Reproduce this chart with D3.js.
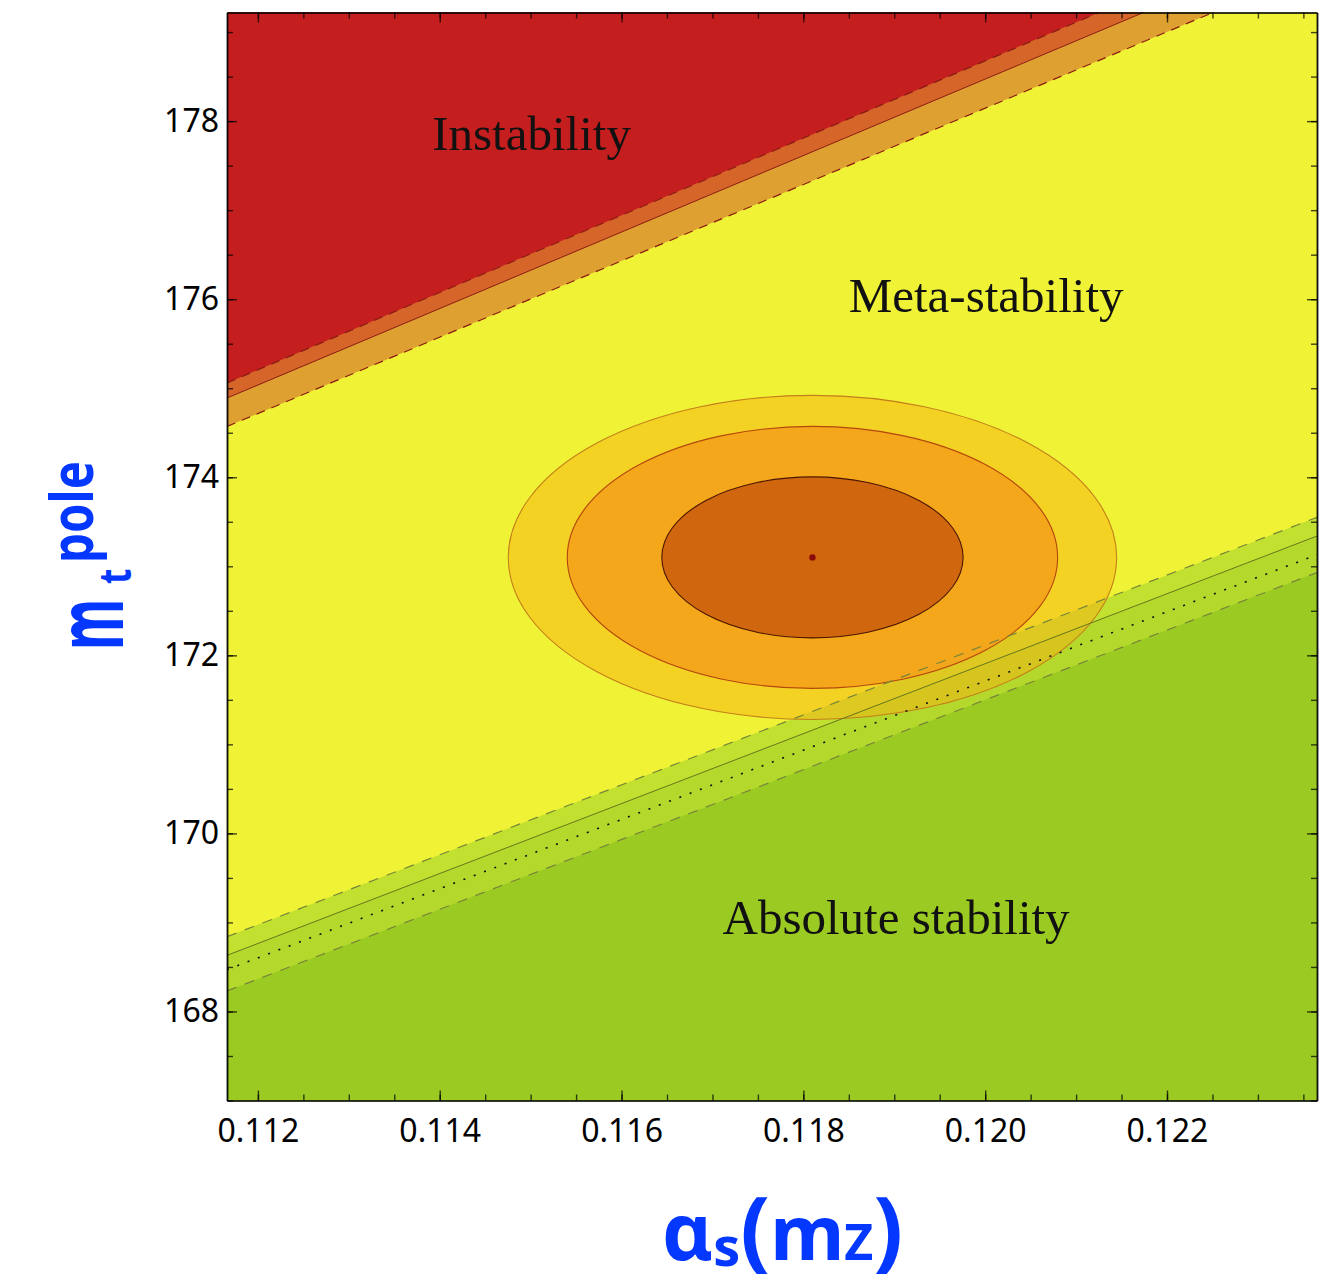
<!DOCTYPE html>
<html>
<head>
<meta charset="utf-8">
<script src="https://cdn.jsdelivr.net/npm/d3@7"></script>
<style>
  body { margin: 0; background: #fff; }
  svg { display: block; }
</style>
</head>
<body>
<div id="chart"></div>
<script>
// axis ranges
const alphaRange = [0.11166, 0.12365];
const mtRange = [167, 179.22];
const alphaTicks = [0.112, 0.114, 0.116, 0.118, 0.120, 0.122];
const mtTicks = [168, 170, 172, 174, 176, 178];

// straight boundaries: mt value at the left and right edge of the plot
const lineAlpha = [0.11166, 0.12365];
const instUpper = [175.06, 180.26];   // dashed, edge of red region
const instCentral = [174.89, 180.04]; // solid
const instLower = [174.57, 179.71];   // dashed, edge of yellow
const stabUpper = [168.84, 173.55];   // dashed
const stabCentral = [168.63, 173.34]; // solid
const stabDotted = [168.47, 173.13];  // dotted
const stabLower = [168.23, 172.93];   // dashed, edge of green

// measured point and its error ellipses
const centre = [0.1181, 173.1];
const ellipseAlpha = [0.003346, 0.002697, 0.001657];
const ellipseMt = [1.82, 1.471, 0.904];

// region labels
const labels = [
    { text: "Instability", alpha: 0.11501, mt: 177.68 },
    { text: "Meta-stability", alpha: 0.12001, mt: 175.86 },
    { text: "Absolute stability", alpha: 0.11902, mt: 168.87 }
];

const W = 1342, H = 1286;
const margin = { top: 12.5, left: 227 },
    width = 1090,
    height = 1088;

const svg = d3.select("#chart").append("svg")
    .attr("width", W)
    .attr("height", H);

const x = d3.scaleLinear().domain(alphaRange).range([0, width]);
const y = d3.scaleLinear().domain(mtRange).range([height, 0]);

svg.append("defs").append("clipPath")
    .attr("id", "plotclip")
    .append("rect")
    .attr("width", width)
    .attr("height", height);

const chart = svg.append("g")
    .attr("transform", `translate(${margin.left},${margin.top})`);

const area = chart.append("g").attr("clip-path", "url(#plotclip)");

// background = meta-stability
area.append("rect")
    .attr("width", width)
    .attr("height", height)
    .attr("fill", "#eff235");

const poly = d3.line().x(d => x(d[0])).y(d => y(d[1]));

function above(vals) {
    const top = d3.max([mtRange[1], ...vals]) + 1;
    return poly([[lineAlpha[0], vals[0]], [lineAlpha[1], vals[1]], [lineAlpha[1], top], [lineAlpha[0], top]]) + "Z";
}
function below(vals) {
    const bot = d3.min([mtRange[0], ...vals]) - 1;
    return poly([[lineAlpha[0], vals[0]], [lineAlpha[1], vals[1]], [lineAlpha[1], bot], [lineAlpha[0], bot]]) + "Z";
}

// instability side
area.append("path").attr("d", above(instLower)).attr("fill", "#dea030");
area.append("path").attr("d", above(instCentral)).attr("fill", "#d6652a");
area.append("path").attr("d", above(instUpper)).attr("fill", "#c41e1f");

// stability side
area.append("path").attr("d", below(stabUpper)).attr("fill", "#c1e02f");
area.append("path").attr("d", below(stabCentral)).attr("fill", "#b4d82b");
area.append("path").attr("d", below(stabLower)).attr("fill", "#9bcb23");

// ellipses
const ellStyle = [
    { fill: "#fab214", op: 0.5, stroke: "#c47f1a" },
    { fill: "#f4a21b", op: 0.9, stroke: "#b5470d" },
    { fill: "#d0670f", op: 1, stroke: "#4a1500" }
];
area.selectAll(".ell")
    .data(ellipseAlpha)
    .enter()
    .append("ellipse")
    .attr("class", "ell")
    .attr("cx", x(centre[0]))
    .attr("cy", y(centre[1]))
    .attr("rx", d => x(centre[0] + d) - x(centre[0]))
    .attr("ry", (d, i) => y(centre[1]) - y(centre[1] + ellipseMt[i]))
    .attr("fill", (d, i) => ellStyle[i].fill)
    .attr("fill-opacity", (d, i) => ellStyle[i].op)
    .attr("stroke", (d, i) => ellStyle[i].stroke)
    .attr("stroke-width", 1.1);

// boundary lines
const lineGen = d3.line().x((d, i) => x(lineAlpha[i])).y(d => y(d));
const lines = [
    { v: instUpper, stroke: "#8a1c12", dash: "9,7", w: 1.2 },
    { v: instCentral, stroke: "#8a1c12", dash: null, w: 1 },
    { v: instLower, stroke: "#8a1c12", dash: "9,7", w: 1.2 },
    { v: stabUpper, stroke: "#76853a", dash: "10,9", w: 1.2 },
    { v: stabCentral, stroke: "#66761f", dash: null, w: 1 },
    { v: stabDotted, stroke: "#111", dash: "2,9", w: 1.6 },
    { v: stabLower, stroke: "#76853a", dash: "10,9", w: 1.2 }
];
area.selectAll(".bline")
    .data(lines)
    .enter()
    .append("path")
    .attr("class", "bline")
    .attr("d", d => lineGen(d.v))
    .attr("fill", "none")
    .attr("stroke", d => d.stroke)
    .attr("stroke-width", d => d.w)
    .attr("stroke-dasharray", d => d.dash);

// central value
area.append("circle")
    .attr("cx", x(centre[0]))
    .attr("cy", y(centre[1]))
    .attr("r", 3.2)
    .attr("fill", "#8b0a0a");

// region names
chart.selectAll(".lab")
    .data(labels)
    .enter()
    .append("text")
    .attr("class", "lab")
    .attr("x", d => x(d.alpha))
    .attr("y", d => y(d.mt))
    .attr("text-anchor", "middle")
    .style("font-family", "'Liberation Serif', serif")
    .style("font-size", "49px")
    .attr("fill", "#111")
    .text(d => d.text);

// axes, ticks pointing inward
const axisCol = "rgba(0,0,0,0.72)";
function styleAxis(g) {
    g.select(".domain").attr("stroke", axisCol).attr("stroke-width", 1.6);
    g.selectAll(".tick line").attr("stroke", axisCol).attr("stroke-width", 1.4);
    g.selectAll("text")
        .style("font-family", "'Noto Sans', sans-serif")
        .style("font-size", "32px")
        .attr("fill", "#000");
}

const minorX = x.ticks(24), minorY = y.ticks(24);

// minor ticks
chart.append("g").attr("transform", `translate(0,${height})`)
    .call(d3.axisBottom(x).tickValues(minorX).tickSizeInner(-6).tickSizeOuter(0).tickFormat(""))
    .call(styleAxis);
chart.append("g")
    .call(d3.axisTop(x).tickValues(minorX).tickSizeInner(-6).tickSizeOuter(0).tickFormat(""))
    .call(styleAxis);
chart.append("g")
    .call(d3.axisLeft(y).tickValues(minorY).tickSizeInner(-6).tickSizeOuter(0).tickFormat(""))
    .call(styleAxis);
chart.append("g").attr("transform", `translate(${width},0)`)
    .call(d3.axisRight(y).tickValues(minorY).tickSizeInner(-6).tickSizeOuter(0).tickFormat(""))
    .call(styleAxis);

// major ticks with labels
chart.append("g").attr("transform", `translate(0,${height})`)
    .call(d3.axisBottom(x).tickValues(alphaTicks).tickSizeInner(-10).tickSizeOuter(0)
        .tickPadding(19).tickFormat(d3.format(".3f")))
    .call(styleAxis);
chart.append("g")
    .call(d3.axisTop(x).tickValues(alphaTicks).tickSizeInner(-10).tickSizeOuter(0).tickFormat(""))
    .call(styleAxis);
chart.append("g")
    .call(d3.axisLeft(y).tickValues(mtTicks).tickSizeInner(-10).tickSizeOuter(0)
        .tickPadding(8).tickFormat(d3.format("d")))
    .call(styleAxis);
chart.append("g").attr("transform", `translate(${width},0)`)
    .call(d3.axisRight(y).tickValues(mtTicks).tickSizeInner(-10).tickSizeOuter(0).tickFormat(""))
    .call(styleAxis);

// axis titles
const blue = "#0538ff";
const xt = svg.append("text")
    .attr("x", 662)
    .attr("y", 1260)
    .attr("fill", blue)
    .style("font-family", "'Noto Sans', sans-serif")
    .style("font-weight", "bold");
xt.append("tspan").style("font-size", "78px").text("α");
xt.append("tspan").style("font-size", "54px").attr("dy", 6).text("s");
xt.append("tspan").style("font-size", "88px").attr("dy", -6).text("(");
xt.append("tspan").style("font-size", "76px").text("m");
xt.append("tspan").style("font-size", "50px").text("Z");
xt.append("tspan").style("font-size", "88px").text(")");

// y title pieces, rotated
const yParts = [
    { t: "m", size: 94, tx: 123, ty: 650, sc: 0.56 },
    { t: "t", size: 44, tx: 131, ty: 584, sc: 0.8 },
    { t: "pole", size: 60, tx: 93, ty: 563, sc: 0.79 }
];
svg.selectAll(".ytitle")
    .data(yParts)
    .enter()
    .append("text")
    .attr("class", "ytitle")
    .attr("transform", d => `translate(${d.tx},${d.ty}) rotate(-90) scale(${d.sc},1)`)
    .attr("fill", blue)
    .style("font-family", "'Noto Sans', sans-serif")
    .style("font-weight", "bold")
    .style("font-size", d => d.size + "px")
    .text(d => d.t);
</script>
</body>
</html>
